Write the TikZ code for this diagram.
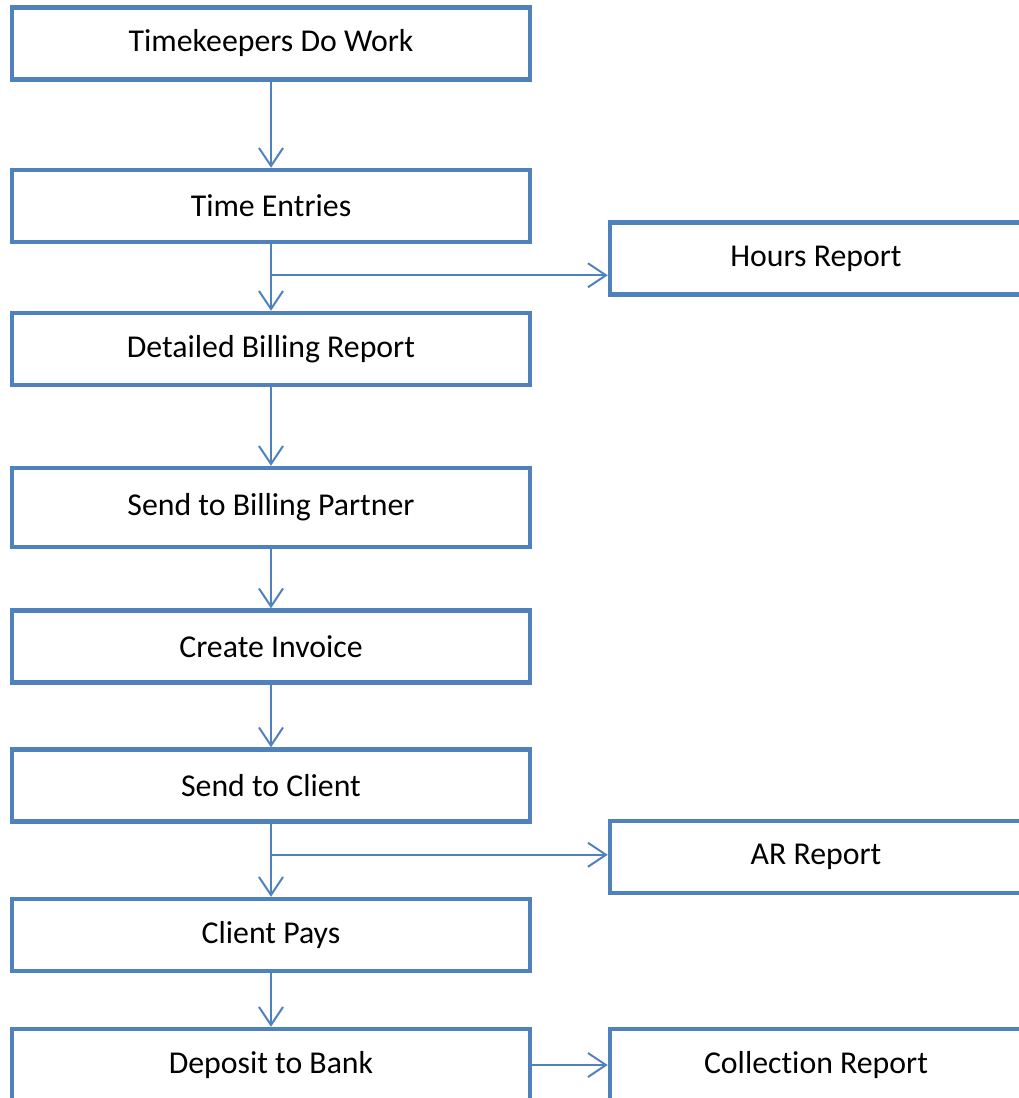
\documentclass[tikz,border=0pt]{standalone}
\usepackage{fontspec}
\setmainfont{Carlito}[Ligatures=CommonOff]
\usetikzlibrary{arrows.meta}
\definecolor{boxblue}{HTML}{4F81BD}
\tikzset{
  box/.style={draw=boxblue, line width=4.5pt, fill=white, minimum height=72pt, inner sep=0pt, font=\fontsize{31.8}{38}\selectfont},
  leftbox/.style={box, minimum width=518pt},
  rightbox/.style={box, minimum width=412pt},
  arr/.style={draw=boxblue, line width=2pt, -{Straight Barb[length=18pt,width=24pt,line width=2pt]}},
  plain/.style={draw=boxblue, line width=2pt}
}
\begin{document}
\begin{tikzpicture}[x=1pt,y=-1pt]
\useasboundingbox (0,0) rectangle (1019,1098);
\begin{scope}
\clip (0,0) rectangle (1019,1098);
\node[leftbox] (b1) at (271,43.5) {Timekeepers Do Work};
\node[leftbox] (b2) at (271,206) {Time Entries};
\node[leftbox] (b3) at (271,349) {Detailed Billing Report};
\node[leftbox, minimum height=79pt] (b4) at (271,507.5) {Send to Billing Partner};
\node[leftbox] (b5) at (271,646.5) {Create Invoice};
\node[leftbox] (b6) at (271,785.5) {Send to Client};
\node[leftbox] (b7) at (271,935) {Client Pays};
\node[leftbox] (b8) at (271,1065) {Deposit to Bank};
\node[rightbox] (hr) at (816,258.5) {Hours Report};
\node[rightbox] (ar) at (816,857) {AR Report};
\node[rightbox] (cr) at (816,1065) {Collection Report};

\draw[arr] (b1.south) -- (b2.north);
\draw[arr] (b2.south) -- (b3.north);
\draw[arr] (b3.south) -- (b4.north);
\draw[arr] (b4.south) -- (b5.north);
\draw[arr] (b5.south) -- (b6.north);
\draw[arr] (b6.south) -- (b7.north);
\draw[arr] (b7.south) -- (b8.north);
\coordinate (j1) at ([yshift=-31pt]b2.south);
\draw[arr] (j1) -- (j1 -| hr.west);
\coordinate (j2) at ([yshift=-31pt]b6.south);
\draw[arr] (j2) -- (j2 -| ar.west);
\draw[arr] (b8.east) -- (cr.west);
\end{scope}
\end{tikzpicture}
\end{document}
